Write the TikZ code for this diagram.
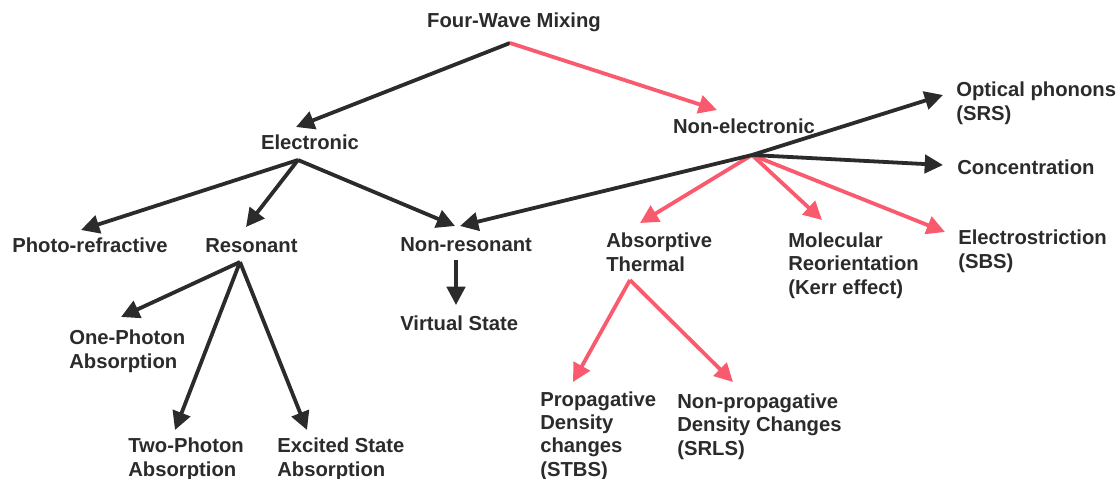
\documentclass[tikz,border=0pt]{standalone}
\usepackage{fontspec}
\setmainfont{Liberation Sans}
\usetikzlibrary{arrows.meta}
\definecolor{dk}{HTML}{2B2B2B}
\definecolor{pk}{HTML}{F95A6D}
\begin{document}
\begin{tikzpicture}[x=0.025cm,y=-0.025cm,
  lbl/.style={font=\bfseries\fontsize{14.4}{16.5}\selectfont, text=dk, inner sep=0pt, align=left, anchor=base west},
  blk/.style={draw=dk, line width=2.7pt, -{Triangle[length=13pt,width=13pt]}},
  pnk/.style={draw=pk, line width=2.7pt, -{Triangle[length=13pt,width=13pt]}}]
\useasboundingbox (0,0) rectangle (1119,479);
% text nodes (anchor = baseline of the last line)
\node[lbl, anchor=base] (fwm) at (514,28) {Four-Wave Mixing};
\node[lbl, anchor=base] (ele) at (310,149) {Electronic};
\node[lbl, anchor=base] (nel) at (744,133) {Non-electronic};
\node[lbl] (pr) at (12,252) {Photo-refractive};
\node[lbl] (res) at (205,252) {Resonant};
\node[lbl] (nres) at (400,251) {Non-resonant};
\node[lbl] (vs) at (400,330) {Virtual State};
\node[lbl] (opa) at (69,368) {One-Photon\\Absorption};
\node[lbl] (tpa) at (128,476) {Two-Photon\\Absorption};
\node[lbl] (esa) at (277,476) {Excited State\\Absorption};
\node[lbl] (op) at (956,120) {Optical phonons\\(SRS)};
\node[lbl] (con) at (957,175) {Concentration};
\node[lbl] (abs) at (606,271) {Absorptive\\Thermal};
\node[lbl] (mol) at (788,294) {Molecular\\Reorientation\\(Kerr effect)};
\node[lbl] (els) at (958,268) {Electrostriction\\(SBS)};
\node[lbl] (pdc) at (540,476) {Propagative\\Density\\changes\\(STBS)};
\node[lbl] (npd) at (677,455) {Non-propagative\\Density Changes\\(SRLS)};
% hubs (branch points below labels)
\coordinate (fwmh) at (510,43);
\coordinate (eleh) at (298,160);
\coordinate (nelh) at (752,155);
\coordinate (resh) at (240,262);
\coordinate (nresh) at (456,260);
\coordinate (absh) at (630,280);
% arrow tips next to labels
\coordinate (t-ele) at (296,127);
\coordinate (t-nel) at (717,110);
\coordinate (t-pr) at (81,230);
\coordinate (t-res) at (246,227);
\coordinate (t-nres1) at (455,226);
\coordinate (t-nres2) at (460,226);
\coordinate (t-op) at (943,95);
\coordinate (t-con) at (943,165);
\coordinate (t-abs) at (640,223);
\coordinate (t-mol) at (822,220);
\coordinate (t-els) at (945,232);
\coordinate (t-opa) at (121,317);
\coordinate (t-tpa) at (175,430);
\coordinate (t-esa) at (307,430);
\coordinate (t-vs) at (456,305);
\coordinate (t-pdc) at (573,382);
\coordinate (t-npd) at (733,382);
% connectors
\draw[blk] (fwmh) -- (t-ele);
\draw[pnk] (fwmh) -- (t-nel);
\draw[blk] (eleh) -- (t-pr);
\draw[blk] (eleh) -- (t-res);
\draw[blk] (eleh) -- (t-nres1);
\draw[pnk] (nelh) -- (t-abs);
\draw[pnk] (nelh) -- (t-mol);
\draw[pnk] (nelh) -- (t-els);
\draw[blk] (nelh) -- (t-nres2);
\draw[blk] (nelh) -- (t-op);
\draw[blk] (nelh) -- (t-con);
\draw[blk] (resh) -- (t-opa);
\draw[blk] (resh) -- (t-tpa);
\draw[blk] (resh) -- (t-esa);
\draw[blk] (nresh) -- (t-vs);
\draw[pnk] (absh) -- (t-pdc);
\draw[pnk] (absh) -- (t-npd);
\end{tikzpicture}
\end{document}
